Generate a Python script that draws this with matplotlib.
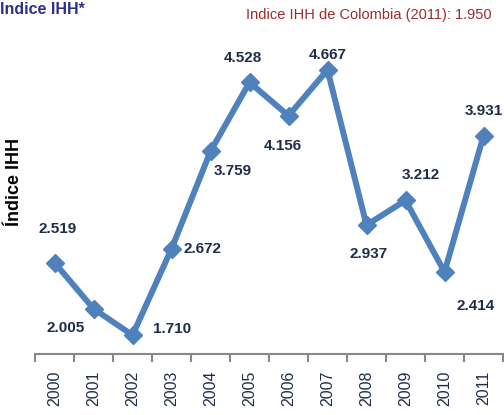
import matplotlib.pyplot as plt

# datos del indice IHH
years = ["2000", "2001", "2002", "2003", "2004", "2005",
         "2006", "2007", "2008", "2009", "2010", "2011"]
ihh = [2.519, 2.005, 1.710, 2.672, 3.759, 4.528,
       4.156, 4.667, 2.937, 3.212, 2.414, 3.931]
labels = ["2.519", "2.005", "1.710", "2.672", "3.759", "4.528",
          "4.156", "4.667", "2.937", "3.212", "2.414", "3.931"]
# desplazamiento de cada etiqueta (pixeles)
offsets = [(3, 34), (-28, -19), (40, 6), (31, 0), (22, -20), (-7, 24),
           (-6, -30), (0, 15), (2, -29), (15, 25), (31, -34), (0, 25)]

font = ["Liberation Sans", "DejaVu Sans"]

fig = plt.figure(figsize=(5.04, 4.15), dpi=100)
ax = fig.add_axes([35 / 504, 61 / 415, 468 / 504, 314 / 415])

x = list(range(len(years)))
ax.plot(x, ihh, color="#4F81BD", lw=4.3, marker="D", markersize=9,
        solid_joinstyle="miter")

for xi, yi, lab, off in zip(x, ihh, labels, offsets):
    ax.annotate(lab, (xi, yi), xytext=off, textcoords="offset pixels",
                ha="center", va="center", fontsize=11, fontweight="bold",
                color="#1F2D4A", family=font)

ax.set_xlim(-0.5, len(years) - 0.5)
ax.set_ylim(1.5, 5.0)
ax.set_yticks([])
for s in ["top", "right", "left"]:
    ax.spines[s].set_visible(False)
ax.spines["bottom"].set_color("#888888")
ax.spines["bottom"].set_linewidth(1.5)

ax.set_xticks(x)
ax.set_xticklabels(years, rotation=90, fontsize=11.5, color="#1F2D4A",
                   family=font)
ax.set_xticks([i - 0.5 for i in range(len(years) + 1)], minor=True)
ax.tick_params(axis="x", which="major", length=0, pad=12)
ax.tick_params(axis="x", which="minor", length=6, width=1.5, color="#888888")

fig.text(15 / 504, 1 - 182 / 415, "Índice IHH", rotation=90, ha="center",
         va="center", fontsize=13, fontweight="bold", color="black",
         family=font)
fig.text(0, 1 - 10 / 415, "Indice IHH*", ha="left", va="center",
         fontsize=11.5, fontweight="bold", color="#2E2E8C", family=font)
fig.text(492 / 504, 1 - 15 / 415, "Indice IHH de Colombia (2011): 1.950",
         ha="right", va="center", fontsize=10.5, color="#9B2D2A",
         family=font)

fig.savefig("out.png", dpi=100)
plt.close(fig)
